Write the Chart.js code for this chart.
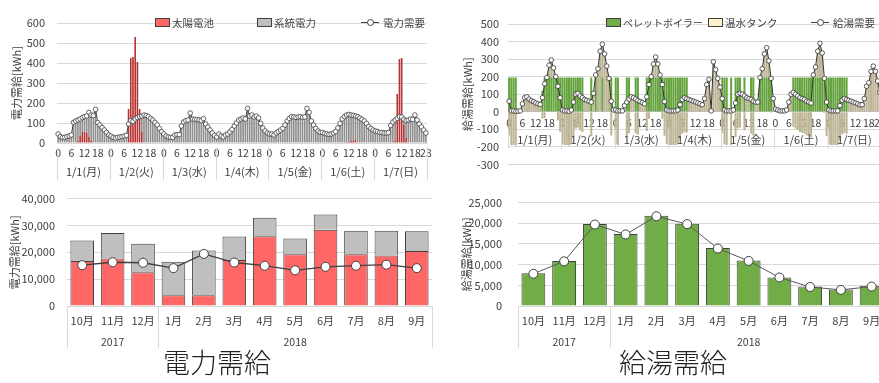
<!DOCTYPE html>
<html>
<head>
<meta charset="utf-8">
<script src="https://cdn.jsdelivr.net/npm/chart.js@4.4.1/dist/chart.umd.min.js"></script>
<style>
html, body { margin: 0; padding: 0; background: #fff; }
body { width: 879px; height: 383px; overflow: hidden; position: relative; font-family: "Noto Sans CJK JP", sans-serif; }
.box { position: absolute; }
canvas { display: block; }
.leg { position: absolute; height: 14px; display: flex; align-items: center; font-size: 10.5px; color: #404040; white-space: nowrap; }
.sw { display: inline-block; width: 15px; height: 9px; border: 1px solid #404040; box-sizing: border-box; margin-right: 2px; }
.ln { display: inline-block; position: relative; width: 18px; height: 1px; background: #404040; margin-right: 4px; }
.ln::after { content: ''; position: absolute; left: 6px; top: -3px; width: 5px; height: 5px; border: 1px solid #404040; border-radius: 50%; background: #fff; }
.title { position: absolute; top: 347px; font-size: 27px; line-height: 1.1; font-weight: 300; color: #222; transform: translateX(-50%); white-space: nowrap; }
</style>
</head>
<body>
<div class="box" style="left:0;top:0"><canvas id="powerHourly" width="440" height="180"></canvas></div>
<div class="box" style="left:440px;top:0"><canvas id="waterHourly" width="460" height="180"></canvas></div>
<div class="box" style="left:0;top:180px"><canvas id="powerMonthly" width="440" height="175"></canvas></div>
<div class="box" style="left:440px;top:180px"><canvas id="waterMonthly" width="460" height="175"></canvas></div>

<div class="leg" style="left:155px;top:15px"><span class="sw" style="background:#ff6666"></span>太陽電池</div>
<div class="leg" style="left:257px;top:15px"><span class="sw" style="background:#bfbfbf"></span>系統電力</div>
<div class="leg" style="left:361px;top:15px"><span class="ln"></span>電力需要</div>
<div class="leg" style="left:606px;top:15px;font-size:10px"><span class="sw" style="background:#70ad47"></span>ペレットボイラー</div>
<div class="leg" style="left:708px;top:15px"><span class="sw" style="background:#fff2cc"></span>温水タンク</div>
<div class="leg" style="left:811px;top:15px"><span class="ln"></span>給湯需要</div>

<div class="title" style="left:217px">電力需給</div>
<div class="title" style="left:673px">給湯需給</div>

<script>
// categories
const hours = ['0','1','2','3','4','5','6','7','8','9','10','11','12','13','14','15','16','17','18','19','20','21','22','23'];
const days = ['1/1(月)', '1/2(火)', '1/3(水)', '1/4(木)', '1/5(金)', '1/6(土)', '1/7(日)'];
const months = ['10月', '11月', '12月', '1月', '2月', '3月', '4月', '5月', '6月', '7月', '8月', '9月'];
const years = [
  { text: '2017', first: 0, last: 2 },
  { text: '2018', first: 3, last: 11 }
];

// hourly electricity, 1/1 - 1/7 [kWh]
const powerDemand = [
  45, 32, 28, 28, 32, 35, 40, 103, 110, 115, 120, 127, 132, 135, 153, 140, 137, 168, 102, 90, 77, 65, 53, 40,
  35, 28, 25, 28, 30, 32, 35, 38, 95, 112, 108, 120, 127, 132, 135, 140, 137, 132, 123, 115, 103, 90, 73, 57,
  45, 35, 30, 28, 28, 40, 42, 42, 85, 105, 112, 115, 150, 120, 118, 118, 115, 112, 122, 95, 80, 65, 50, 38,
  30, 45, 35, 30, 40, 45, 55, 68, 85, 100, 115, 120, 125, 120, 173, 135, 140, 130, 135, 125, 98, 75, 60, 50,
  45, 45, 40, 50, 57, 65, 73, 90, 110, 123, 132, 130, 128, 130, 132, 128, 130, 173, 153, 110, 90, 73, 60, 53,
  53, 48, 45, 43, 45, 50, 57, 75, 98, 120, 132, 140, 143, 140, 138, 135, 132, 125, 118, 110, 98, 82, 73, 65,
  60, 57, 53, 53, 50, 50, 52, 88, 105, 115, 123, 132, 130, 118, 112, 115, 120, 118, 140, 115, 95, 80, 65, 50
];
const solarHourly = [
  0, 0, 0, 0, 0, 0, 0, 0, 0, 10, 35, 55, 57, 50, 30, 10, 0, 0, 0, 0, 0, 0, 0, 0,
  0, 0, 0, 0, 0, 0, 0, 0, 170, 425, 430, 530, 405, 170, 55, 0, 0, 0, 0, 0, 0, 0, 0, 0,
  0, 0, 0, 0, 0, 0, 0, 0, 0, 0, 0, 0, 0, 0, 0, 0, 0, 0, 0, 0, 0, 0, 0, 0,
  0, 0, 0, 0, 0, 0, 0, 0, 0, 0, 0, 0, 0, 0, 0, 0, 0, 0, 0, 0, 0, 0, 0, 0,
  0, 0, 0, 0, 0, 0, 0, 0, 0, 0, 0, 0, 0, 0, 0, 0, 0, 0, 0, 0, 0, 0, 0, 0,
  0, 0, 0, 0, 0, 0, 0, 0, 0, 0, 0, 5, 8, 10, 10, 15, 5, 0, 0, 0, 0, 0, 0, 0,
  0, 0, 0, 0, 0, 0, 0, 0, 0, 10, 245, 420, 425, 90, 25, 0, 0, 0, 0, 0, 0, 0, 0, 0
];
const gridHourly = [
  45, 32, 28, 28, 32, 35, 40, 103, 110, 105, 85, 72, 75, 85, 123, 130, 137, 168, 102, 90, 77, 65, 53, 40,
  35, 28, 25, 28, 30, 32, 35, 38, 0, 0, 0, 0, 0, 0, 80, 140, 137, 132, 123, 115, 103, 90, 73, 57,
  45, 35, 30, 28, 28, 40, 42, 42, 85, 105, 112, 115, 150, 120, 118, 118, 115, 112, 122, 95, 80, 65, 50, 38,
  30, 45, 35, 30, 40, 45, 55, 68, 85, 100, 115, 120, 125, 120, 173, 135, 140, 130, 135, 125, 98, 75, 60, 50,
  45, 45, 40, 50, 57, 65, 73, 90, 110, 123, 132, 130, 128, 130, 132, 128, 130, 173, 153, 110, 90, 73, 60, 53,
  53, 48, 45, 43, 45, 50, 57, 75, 98, 120, 132, 135, 135, 130, 128, 120, 127, 125, 118, 110, 98, 82, 73, 65,
  60, 57, 53, 53, 50, 50, 52, 88, 105, 105, 0, 0, 0, 28, 87, 115, 120, 118, 140, 115, 95, 80, 65, 50
];

// hourly hot water, 1/1 - 1/7 [kWh]
const waterDemand = [
  60, 5, 5, 3, 3, 5, 45, 80, 85, 72, 63, 58, 50, 45, 42, 80, 160, 195, 265, 295, 250, 200, 145, 80,
  10, 5, 5, 3, 10, 55, 100, 105, 90, 80, 70, 65, 60, 55, 105, 210, 245, 345, 385, 330, 260, 190, 60, 10,
  10, 5, 5, 5, 35, 55, 72, 85, 80, 72, 64, 58, 53, 45, 85, 155, 200, 272, 312, 272, 210, 155, 58, 10,
  5, 5, 5, 5, 10, 40, 70, 80, 75, 70, 65, 60, 55, 50, 45, 40, 75, 155, 185, 5, 285, 240, 190, 140,
  75, 10, 5, 5, 5, 10, 50, 100, 105, 100, 90, 80, 75, 70, 60, 55, 55, 195, 245, 330, 365, 290, 190, 75,
  15, 10, 5, 5, 5, 10, 55, 100, 110, 100, 90, 80, 75, 70, 60, 55, 50, 210, 255, 345, 390, 335, 190, 55,
  10, 5, 5, 5, 5, 35, 65, 75, 70, 65, 60, 55, 50, 45, 40, 40, 75, 145, 165, 230, 260, 230, 175, 110
];
const boilerHourly = [
  195, 195, 195, 195, 0, 0, 0, 0, 0, 0, 0, 0, 0, 0, 0, 120, 195, 195, 195, 195, 195, 195, 195, 195,
  195, 195, 195, 195, 195, 195, 195, 195, 195, 195, 0, 0, 0, 195, 0, 195, 0, 0, 195, 0, 0, 0, 195, 0,
  195, 195, 0, 0, 0, 195, 195, 0, 0, 195, 195, 0, 0, 0, 195, 195, 195, 195, 195, 195, 195, 195, 195, 195,
  195, 195, 195, 195, 195, 195, 195, 195, 195, 0, 0, 0, 0, 0, 0, 0, 0, 0, 0, 0, 0, 0, 0, 0,
  195, 195, 195, 0, 195, 0, 195, 195, 195, 0, 195, 0, 0, 195, 195, 0, 0, 195, 195, 195, 195, 195, 195, 0,
  0, 0, 0, 0, 0, 0, 0, 0, 195, 195, 195, 195, 195, 195, 195, 195, 195, 195, 195, 195, 195, 195, 195, 195,
  195, 195, 195, 195, 195, 195, 195, 195, 195, 0, 0, 0, 0, 0, 0, 0, 0, 0, 0, 0, 0, 0, 0, 0
];
const tankHourly = [
  -135, -190, -190, -192, 3, 5, 45, 80, 85, 72, 63, 58, 50, 45, 42, -40, -35, 0, 70, 100, 55, 5, -50, -115,
  -185, -190, -190, -192, -185, -140, -95, -90, -105, -115, 70, 65, 60, -140, 105, 15, 245, 345, 190, 330, 260, 190, -135, 10,
  -185, -190, 5, 5, 35, -140, -123, 85, 80, -123, -131, 58, 53, 45, -110, -40, 5, 77, 117, 77, 15, -40, -137, -185,
  -190, -190, -190, -190, -185, -155, -125, -115, -120, 70, 65, 60, 55, 50, 45, 40, 75, 155, 185, 5, 285, 240, 190, 140,
  -120, -185, -190, 5, -190, 10, -145, -95, -90, 100, -105, 80, 75, -125, -135, 55, 55, 0, 50, 135, 170, 95, -5, 75,
  15, 10, 5, 5, 5, 10, 55, 100, -85, -95, -105, -115, -120, -125, -135, -140, -145, 15, 60, 150, 195, 140, -5, -140,
  -185, -190, -190, -190, -190, -160, -130, -120, -125, 65, 60, 55, 50, 45, 40, 40, 75, 145, 165, 230, 260, 230, 175, 110
];

// monthly, 2017/10 - 2018/9 [kWh]
const solarMonthly = [16800, 17700, 12600, 4000, 4000, 17100, 26000, 19300, 28400, 19300, 18800, 20500];
const gridMonthly = [7600, 9500, 10600, 12500, 16700, 8800, 6900, 5800, 5700, 8700, 9200, 7300];
const powerMonthlyDemand = [15200, 16300, 16100, 14100, 19400, 16200, 15000, 13300, 14600, 15000, 15400, 14100];
const boilerMonthly = [7900, 10900, 19800, 17400, 21800, 19900, 14000, 11000, 6900, 4700, 4000, 4900];
const waterMonthlyDemand = [7800, 10800, 19700, 17300, 21700, 19800, 13900, 10900, 6900, 4600, 3900, 4700];

const hourLabels = days.flatMap(() => hours);
const dayGroups = days.map((d, i) => ({ text: d, first: i * 24, last: i * 24 + 23 }));

Chart.defaults.font.family = '"Noto Sans CJK JP", sans-serif';
Chart.defaults.font.size = 11;
Chart.defaults.color = '#404040';
Chart.defaults.animation = false;

const gridColor = '#d9d9d9';

// draws the second row of category labels (days / years) with separators
const groupBand = {
  id: 'groupBand',
  afterDraw(chart, args, opts) {
    if (!opts.groups) return;
    const x = chart.scales.x;
    const ctx = chart.ctx;
    const base = opts.atZero ? chart.scales.y.getPixelForValue(0) : chart.chartArea.bottom;
    const half = (x.getPixelForValue(1) - x.getPixelForValue(0)) / 2;
    ctx.save();
    ctx.strokeStyle = gridColor;
    ctx.lineWidth = 1;
    ctx.fillStyle = '#404040';
    ctx.font = opts.font;
    ctx.textAlign = 'center';
    ctx.textBaseline = 'middle';
    opts.groups.forEach((g) => {
      const left = x.getPixelForValue(g.first) - half;
      const right = x.getPixelForValue(g.last) + half;
      [left, right].forEach((px) => {
        const lx = Math.round(px) + 0.5;
        ctx.beginPath();
        ctx.moveTo(lx, base + opts.lineTop);
        ctx.lineTo(lx, base + opts.lineBottom);
        ctx.stroke();
      });
      ctx.fillText(g.text, (left + right) / 2, base + opts.textY);
    });
    ctx.restore();
  }
};

function hourTick(value, index) {
  const h = Number(hourLabels[index]);
  return (h % 6 === 0 || index === hourLabels.length - 1) ? hourLabels[index] : '';
}

function thousands(v) {
  return v.toLocaleString('en-US');
}

function yTitle(text, pad) {
  return { display: true, text: text, font: { size: 11 }, color: '#404040', padding: { top: pad, bottom: 0 } };
}

// top left: hourly electricity
new Chart(document.getElementById('powerHourly'), {
  type: 'bar',
  data: {
    labels: hourLabels,
    datasets: [
      {
        type: 'line', label: '電力需要', data: powerDemand, order: 0,
        borderColor: '#404040', borderWidth: 1,
        pointRadius: 2.3, pointBackgroundColor: '#fff', pointBorderColor: '#404040', pointBorderWidth: 0.8
      },
      { label: '太陽電池', data: solarHourly, backgroundColor: '#b83434', order: 1, stack: 's' },
      { label: '系統電力', data: gridHourly, backgroundColor: '#8e8e8e', order: 1, stack: 's' }
    ]
  },
  options: {
    responsive: false,
    layout: { padding: { top: 23, right: 13, left: 0, bottom: 0 } },
    datasets: { bar: { categoryPercentage: 1, barPercentage: 0.75 } },
    plugins: {
      legend: { display: false },
      tooltip: { enabled: false },
      groupBand: { groups: dayGroups, lineTop: 4, lineBottom: 37, textY: 29, font: '11px "Noto Sans CJK JP"' }
    },
    scales: {
      x: {
        stacked: true,
        grid: { display: false, drawTicks: false },
        border: { color: gridColor },
        ticks: { autoSkip: false, maxRotation: 0, padding: 4, font: { size: 10.5 }, callback: hourTick },
        afterFit: (s) => { s.height = 37; }
      },
      y: {
        stacked: true, min: 0, max: 600,
        ticks: { stepSize: 100, padding: 12 },
        grid: { color: gridColor, drawTicks: false },
        border: { display: false },
        title: yTitle('電力需給[kWh]', 10),
        afterFit: (s) => { s.width = 57; }
      }
    }
  },
  plugins: [groupBand]
});

// top right: hourly hot water
new Chart(document.getElementById('waterHourly'), {
  type: 'bar',
  data: {
    labels: hourLabels,
    datasets: [
      {
        type: 'line', label: '給湯需要', data: waterDemand, order: 0,
        borderColor: '#333', borderWidth: 1,
        pointRadius: 2.3, pointBackgroundColor: '#fff', pointBorderColor: '#333', pointBorderWidth: 0.8
      },
      { label: 'ペレットボイラー', data: boilerHourly, backgroundColor: '#64a33d', order: 1, stack: 's' },
      { label: '温水タンク', data: tankHourly, backgroundColor: '#bdb596', order: 1, stack: 's' }
    ]
  },
  options: {
    responsive: false,
    layout: { padding: { top: 24, right: 19, left: 0, bottom: 10 } },
    datasets: { bar: { categoryPercentage: 1, barPercentage: 0.92 } },
    plugins: {
      legend: { display: false },
      tooltip: { enabled: false },
      groupBand: { groups: dayGroups, atZero: true, lineTop: 18, lineBottom: 37, textY: 28, font: '11px "Noto Sans CJK JP"' }
    },
    scales: {
      x: {
        stacked: true,
        position: { y: 0 },
        grid: { display: false, drawTicks: false },
        border: { color: '#bfbfbf' },
        ticks: { autoSkip: false, maxRotation: 0, padding: 5, font: { size: 10.5 }, callback: hourTick }
      },
      y: {
        stacked: true, min: -300, max: 500,
        ticks: { stepSize: 100, padding: 9 },
        grid: { color: gridColor, drawTicks: false },
        border: { display: false },
        title: yTitle('給湯需給[kWh]', 21),
        afterFit: (s) => { s.width = 68; }
      }
    }
  },
  plugins: [groupBand]
});

// bottom left: monthly electricity
new Chart(document.getElementById('powerMonthly'), {
  type: 'bar',
  data: {
    labels: months,
    datasets: [
      {
        type: 'line', label: '電力需要', data: powerMonthlyDemand, order: 0,
        borderColor: '#404040', borderWidth: 1.3,
        pointRadius: 4.5, pointBackgroundColor: '#fff', pointBorderColor: '#404040', pointBorderWidth: 1
      },
      { label: '太陽電池', data: solarMonthly, backgroundColor: '#ff6666', borderColor: '#404040', borderWidth: 1, order: 1, stack: 's' },
      { label: '系統電力', data: gridMonthly, backgroundColor: '#bfbfbf', borderColor: '#404040', borderWidth: 1, order: 1, stack: 's' }
    ]
  },
  options: {
    responsive: false,
    layout: { padding: { top: 17, right: 8, left: 0, bottom: 0 } },
    datasets: { bar: { categoryPercentage: 0.8, barPercentage: 0.97 } },
    plugins: {
      legend: { display: false },
      tooltip: { enabled: false },
      groupBand: { groups: years, lineTop: 0, lineBottom: 42, textY: 36, font: '10.5px "Noto Sans CJK JP"' }
    },
    scales: {
      x: {
        stacked: true,
        grid: { display: false, drawTicks: false },
        border: { color: gridColor },
        ticks: { maxRotation: 0, padding: 8 },
        afterFit: (s) => { s.height = 49; }
      },
      y: {
        stacked: true, min: 0, max: 40000,
        ticks: { stepSize: 5000, padding: 12, callback: thousands },
        grid: { color: gridColor, drawTicks: false },
        border: { display: false },
        title: yTitle('電力需給[kWh]', 8),
        afterFit: (s) => { s.width = 67; }
      }
    }
  },
  plugins: [groupBand]
});

// bottom right: monthly hot water
new Chart(document.getElementById('waterMonthly'), {
  type: 'bar',
  data: {
    labels: months,
    datasets: [
      {
        type: 'line', label: '給湯需要', data: waterMonthlyDemand, order: 0,
        borderColor: '#595959', borderWidth: 1,
        pointRadius: 4.5, pointBackgroundColor: '#fff', pointBorderColor: '#404040', pointBorderWidth: 1
      },
      { label: 'ペレットボイラー', data: boilerMonthly, backgroundColor: '#70ad47', borderColor: '#404040', borderWidth: 1, order: 1 }
    ]
  },
  options: {
    responsive: false,
    layout: { padding: { top: 16, right: 13, left: 0, bottom: 0 } },
    datasets: { bar: { categoryPercentage: 0.8, barPercentage: 0.97 } },
    plugins: {
      legend: { display: false },
      tooltip: { enabled: false },
      groupBand: { groups: years, lineTop: 0, lineBottom: 42, textY: 36, font: '10.5px "Noto Sans CJK JP"' }
    },
    scales: {
      x: {
        grid: { display: false, drawTicks: false },
        border: { color: gridColor },
        ticks: { maxRotation: 0, padding: 8 },
        afterFit: (s) => { s.height = 49; }
      },
      y: {
        min: 0, max: 25000,
        ticks: { stepSize: 5000, padding: 16, callback: thousands },
        grid: { color: gridColor, drawTicks: false },
        border: { display: false },
        title: yTitle('給湯需給[kWh]', 20),
        afterFit: (s) => { s.width = 78; }
      }
    }
  },
  plugins: [groupBand]
});
</script>
</body>
</html>
